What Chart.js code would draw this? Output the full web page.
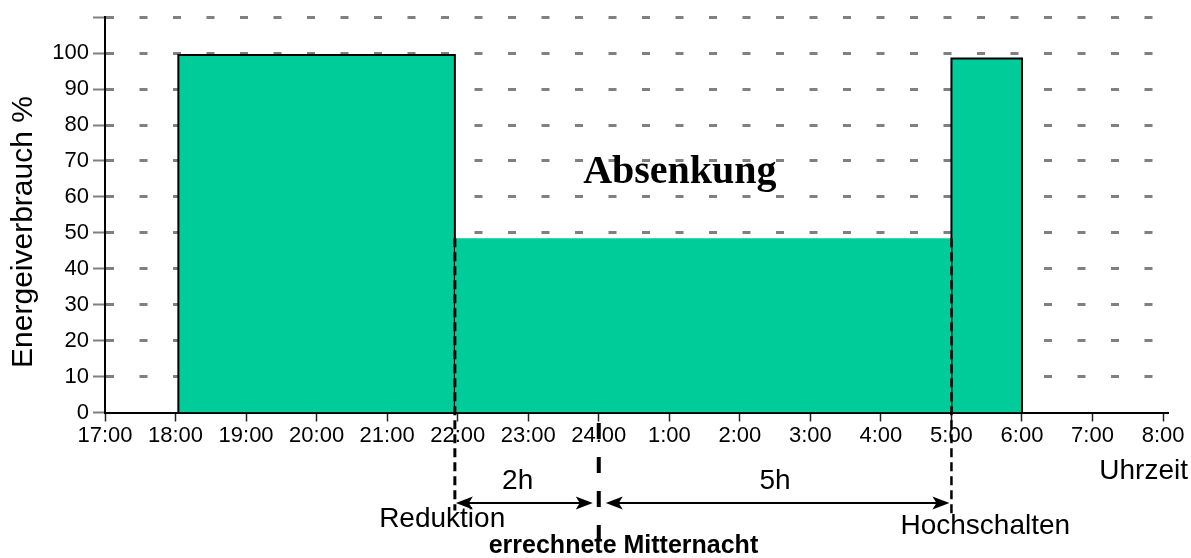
<!DOCTYPE html>
<html>
<head>
<meta charset="utf-8">
<script src="https://cdn.jsdelivr.net/npm/chart.js@4"></script>
<style>
  html, body { margin: 0; padding: 0; background: #fff; }
  #wrap { width: 1191px; height: 558px; position: relative; }
</style>
</head>
<body>
<div id="wrap"><canvas id="chart"></canvas></div>
<script>
// Stunden fortlaufend ab 17:00 (24 = Mitternacht, 25 = 1:00 ...)
const hourTicks = [17, 18, 19, 20, 21, 22, 23, 24, 25, 26, 27, 28, 29, 30, 31, 32];
const hourLabels = ['17:00', '18:00', '19:00', '20:00', '21:00', '22:00', '23:00', '24:00',
                    '1:00', '2:00', '3:00', '4:00', '5:00', '6:00', '7:00', '8:00'];
const levelTicks = [0, 10, 20, 30, 40, 50, 60, 70, 80, 90, 100, 110];
const levelLabels = ['0', '10', '20', '30', '40', '50', '60', '70', '80', '90', '100', ''];

// Abschnitte: Normalbetrieb, Absenkung, Hochschalten
const segStart = [18.04, 21.96, 29];
const segEnd   = [21.96, 29, 30];
const segLevel = [99.5, 48.5, 98.5];

// Markierungen unter der Achse
const reduktionAt = 21.96;
const mitternachtAt = 24;
const hochschaltenAt = 29;
const spanLabels = ['2h', '5h'];
const spanLabelAt = [22.85, 26.5];
const absenkungAt = { hour: 25.15, level: 63.8 };

const FILL = '#00CC99';
const SANS = '"Liberation Sans", Arial, sans-serif';

function rect(i) {
  return [
    { x: segStart[i], y: 0 },
    { x: segStart[i], y: segLevel[i] },
    { x: segEnd[i], y: segLevel[i] },
    { x: segEnd[i], y: 0 }
  ];
}

function vline(ctx, x, y1, y2, w, dash) {
  ctx.beginPath();
  ctx.lineWidth = w;
  ctx.setLineDash(dash);
  ctx.moveTo(x, y1);
  ctx.lineTo(x, y2);
  ctx.stroke();
  ctx.setLineDash([]);
}

function head(ctx, tip, y, dir) {
  ctx.beginPath();
  ctx.moveTo(tip, y);
  ctx.lineTo(tip + dir * 17, y - 6.5);
  ctx.lineTo(tip + dir * 13, y);
  ctx.lineTo(tip + dir * 17, y + 6.5);
  ctx.closePath();
  ctx.fill();
}

function arrow(ctx, x1, x2, y) {
  ctx.beginPath();
  ctx.lineWidth = 2;
  ctx.moveTo(x1 + 4, y);
  ctx.lineTo(x2 - 4, y);
  ctx.stroke();
  head(ctx, x1, y, 1);
  head(ctx, x2, y, -1);
}

function text(ctx, str, x, y, font, align) {
  ctx.font = font;
  ctx.textAlign = align || 'center';
  ctx.fillText(str, x, y);
}

const annotations = {
  id: 'annotations',
  afterDraw(chart) {
    const { ctx, scales: { x, y } } = chart;
    const base = y.getPixelForValue(0);
    const xr = x.getPixelForValue(reduktionAt);
    const xm = x.getPixelForValue(mitternachtAt);
    const xh = x.getPixelForValue(hochschaltenAt);
    const low = y.getPixelForValue(segLevel[1]);

    ctx.save();
    ctx.strokeStyle = '#000';
    ctx.fillStyle = '#000';

    vline(ctx, xr, low, base + 98, 3, [9, 5]);
    vline(ctx, xh, low, base + 104, 2.5, [9, 5]);
    vline(ctx, xm, base + 10.5, chart.height, 4, [16, 18]);

    const ay = base + 90.5;
    arrow(ctx, xr + 1, xm - 6, ay);
    arrow(ctx, xm + 7, xh - 2, ay);

    ctx.textBaseline = 'middle';
    text(ctx, spanLabels[0], x.getPixelForValue(spanLabelAt[0]), base + 69, '28px ' + SANS);
    text(ctx, spanLabels[1], x.getPixelForValue(spanLabelAt[1]), base + 69, '28px ' + SANS);
    text(ctx, 'Reduktion', x.getPixelForValue(21.78), base + 107, '28px ' + SANS);
    text(ctx, 'Hochschalten', x.getPixelForValue(29.48), base + 114, '28px ' + SANS);
    text(ctx, 'Uhrzeit', chart.width - 3, base + 59, '28px ' + SANS, 'right');
    text(ctx, 'errechnete Mitternacht', x.getPixelForValue(24.35), base + 134, 'bold 25px ' + SANS);

    ctx.textBaseline = 'alphabetic';
    text(ctx, 'Absenkung', x.getPixelForValue(absenkungAt.hour), y.getPixelForValue(absenkungAt.level),
         'bold 40px "Liberation Serif", "Times New Roman", serif');

    ctx.translate(32, 232);
    ctx.rotate(-Math.PI / 2);
    text(ctx, 'Energeiverbrauch %', 0, 0, '30px ' + SANS);
    ctx.restore();
  }
};

const ctxChart = document.getElementById('chart').getContext('2d');

new Chart(ctxChart, {
  type: 'line',
  data: {
    datasets: [
      { data: rect(1), backgroundColor: FILL, borderWidth: 0, fill: 'origin' },
      { data: rect(0), backgroundColor: FILL, borderColor: '#000', borderWidth: 2, fill: 'origin' },
      { data: rect(2), backgroundColor: FILL, borderColor: '#000', borderWidth: 2, fill: 'origin' }
    ]
  },
  options: {
    responsive: true,
    maintainAspectRatio: false,
    animation: false,
    events: [],
    layout: { padding: { top: 15, right: 23, left: 0, bottom: 0 } },
    elements: {
      point: { radius: 0 },
      line: { tension: 0, borderJoinStyle: 'miter' }
    },
    plugins: {
      legend: { display: false },
      tooltip: { enabled: false }
    },
    scales: {
      x: {
        type: 'linear',
        min: 17,
        max: 32.07,
        afterBuildTicks: s => { s.ticks = hourTicks.map(v => ({ value: v })); },
        afterFit: s => { s.height = 145.5; },
        ticks: {
          autoSkip: false,
          maxRotation: 0,
          padding: 1,
          color: '#000',
          font: { family: SANS, size: 22 },
          callback: (v, i) => hourLabels[i]
        },
        grid: { drawOnChartArea: false, tickLength: 9, tickColor: '#222', tickWidth: 1.5 },
        border: { color: '#000', width: 2 }
      },
      y: {
        min: 0,
        max: 110,
        afterBuildTicks: s => { s.ticks = levelTicks.map(v => ({ value: v })); },
        afterFit: s => { s.width = 105; },
        ticks: {
          padding: 4,
          color: '#000',
          font: { family: SANS, size: 22 },
          callback: (v, i) => levelLabels[i]
        },
        grid: {
          color: c => (c.tick && c.tick.value === 0) ? 'rgba(0,0,0,0)' : '#808080',
          lineWidth: 3,
          tickLength: 12,
          tickColor: '#808080',
          tickWidth: 2,
          tickBorderDash: []
        },
        border: { color: '#000', width: 2, dash: [8, 25.5] }
      }
    }
  },
  plugins: [annotations]
});
</script>
</body>
</html>
